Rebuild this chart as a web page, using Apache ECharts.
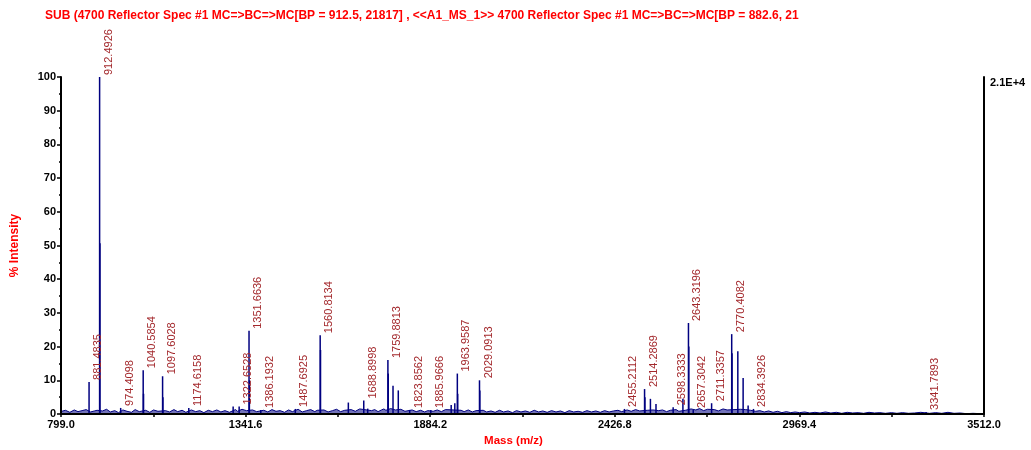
<!DOCTYPE html>
<html>
<head>
<meta charset="utf-8">
<script src="https://cdn.jsdelivr.net/npm/echarts@6/dist/echarts.min.js"></script>
<style>
  html, body { margin: 0; padding: 0; background: #ffffff; }
  #chart { width: 1031px; height: 450px; }
</style>
</head>
<body>
<div id="chart"></div>
<script>
// Header line of the spectrum report
const titleText = 'SUB (4700 Reflector Spec #1 MC=>BC=>MC[BP = 912.5, 21817] , <<A1_MS_1>> 4700 Reflector Spec #1 MC=>BC=>MC[BP = 882.6, 21';
const rightScaleLabel = '2.1E+4';

// Axis ticks (m/z)
const xLabelValues = [799.0, 1341.6, 1884.2, 2426.8, 2969.4, 3512.0];
const xTickValues = [799.0, 1070.3, 1341.6, 1612.9, 1884.2, 2155.5, 2426.8, 2698.1, 2969.4, 3240.7, 3512.0];

// Annotated peaks: m/z and % intensity
const labeledMz = [881.4835, 912.4926, 974.4098, 1040.5854, 1097.6028, 1174.6158, 1322.6528, 1351.6636,
  1386.1932, 1487.6925, 1560.8134, 1688.8998, 1759.8813, 1823.8562, 1885.9666, 1963.9587, 2029.0913,
  2455.2112, 2514.2869, 2598.3333, 2643.3196, 2657.3042, 2711.3357, 2770.4082, 2834.3926, 3341.7893];
const labeledPct = [9.5, 100, 1.8, 13, 11.2, 1.8, 2.2, 24.7,
  1.2, 1.5, 23.4, 4, 16, 1.2, 1.2, 12, 10,
  1.5, 7.4, 2, 27, 1.2, 3.2, 23.7, 1.5, 0.6];

// Isotope and unannotated peaks
const otherMz = [913.5, 1041.6, 1098.6, 1305.0, 1352.7, 1561.8, 1643.6, 1700.5, 1760.9, 1774.9, 1790.4,
  1945.9, 1956.5, 1965.0, 2030.1, 2515.3, 2531.5, 2547.9, 2627.0, 2644.3, 2771.4, 2788.4, 2804.0, 2818.7];
const otherPct = [50.7, 6, 5, 2.2, 10, 19, 3.4, 1.6, 12, 8.4, 7,
  2.7, 3.2, 6, 7, 5, 4.5, 3, 4.5, 20, 18, 18.6, 10.7, 2.5];

// Baseline noise trace: [m/z, % intensity]
const baseline = [
  [801, 0.8], [812, 1.1], [825, 0.5], [838, 1.2], [849, 0.7], [861, 1.0], [873, 1.3], [886, 0.6], [897, 0.9], [905, 1.1],
  [921, 0.9], [933, 1.4], [944, 0.6], [957, 1.0], [968, 0.4], [981, 1.2], [993, 0.8], [1006, 0.5], [1017, 1.3], [1029, 0.7],
  [1048, 1.1], [1060, 0.5], [1071, 1.2], [1084, 0.8], [1106, 1.0], [1118, 0.6], [1131, 1.3], [1142, 0.7], [1155, 1.1], [1166, 0.5],
  [1182, 1.2], [1195, 0.7], [1207, 1.0], [1219, 0.4], [1232, 1.1], [1244, 0.7], [1257, 1.2], [1269, 0.6], [1281, 1.0], [1294, 0.5],
  [1312, 1.3], [1318, 0.8], [1331, 1.4], [1344, 1.0], [1362, 1.2], [1374, 0.7], [1395, 1.1], [1407, 0.6], [1419, 1.3], [1431, 0.8],
  [1443, 1.0], [1456, 0.5], [1468, 1.2], [1479, 0.7], [1496, 1.4], [1508, 0.6], [1521, 1.0], [1533, 1.3], [1545, 0.7], [1552, 1.1],
  [1572, 1.2], [1584, 0.6], [1597, 1.0], [1609, 1.4], [1621, 0.7], [1633, 1.1], [1652, 1.3], [1664, 0.8], [1677, 1.5], [1712, 1.0],
  [1721, 1.3], [1731, 0.7], [1741, 1.2], [1748, 1.5], [1754, 1.1], [1768, 1.6], [1782, 1.2], [1798, 1.4], [1810, 0.8], [1831, 1.2],
  [1843, 0.7], [1856, 1.1], [1868, 0.6], [1877, 1.0], [1893, 0.8], [1905, 1.2], [1917, 0.7], [1929, 1.3], [1975, 1.1], [1984, 0.7],
  [1996, 1.2], [2008, 0.6], [2019, 1.0], [2040, 1.1], [2050, 0.6], [2063, 0.9], [2075, 0.5], [2088, 1.1], [2100, 0.6], [2113, 0.9],
  [2126, 0.4], [2138, 1.0], [2151, 0.6], [2164, 0.9], [2177, 0.5], [2190, 1.1], [2203, 0.6], [2215, 0.9], [2228, 0.5], [2241, 1.0],
  [2254, 0.6], [2267, 0.9], [2280, 0.4], [2293, 1.0], [2306, 0.6], [2319, 0.8], [2332, 0.5], [2345, 1.0], [2358, 0.6], [2371, 0.9],
  [2384, 0.5], [2397, 1.0], [2410, 0.6], [2423, 0.9], [2436, 1.1], [2447, 0.7], [2463, 1.2], [2475, 0.8], [2488, 1.3], [2500, 0.9],
  [2522, 1.1], [2539, 1.2], [2556, 1.0], [2567, 1.2], [2579, 0.7], [2590, 1.1], [2607, 1.3], [2615, 0.8], [2634, 1.1], [2651, 1.5],
  [2665, 1.2], [2676, 1.6], [2688, 1.0], [2699, 1.4], [2720, 1.3], [2731, 0.9], [2745, 1.5], [2757, 1.2], [2796, 1.4], [2811, 1.3],
  [2826, 1.1], [2841, 0.8], [2853, 1.0], [2866, 0.6], [2879, 0.9], [2892, 0.5], [2905, 0.8], [2918, 0.4], [2931, 0.7], [2944, 0.4],
  [2957, 0.6], [2970, 0.4], [2985, 0.6], [3000, 0.3], [3015, 0.5], [3030, 0.3], [3046, 0.6], [3062, 0.3], [3078, 0.5], [3094, 0.2],
  [3110, 0.5], [3126, 0.3], [3142, 0.4], [3158, 0.2], [3174, 0.5], [3190, 0.3], [3206, 0.4], [3222, 0.2], [3240, 0.4], [3256, 0.2],
  [3272, 0.4], [3290, 0.2], [3308, 0.3], [3326, 0.5], [3352, 0.2], [3370, 0.4], [3388, 0.2], [3406, 0.5], [3424, 0.2], [3442, 0.3],
  [3460, 0.1], [3480, 0.2], [3500, 0.1]
];

const FONT = '"Liberation Sans", Arial, Helvetica, sans-serif';
const TRACE = '#000080';
const LABEL_RED = '#a3282c';

// One bar series holds every stick so all share the same centre line
const sticks = [];
labeledMz.forEach((m, i) => sticks.push({ value: [m, labeledPct[i]], label: { show: true } }));
otherMz.forEach((m, i) => sticks.push({ value: [m, otherPct[i]] }));

const tickLabelStyle = { color: '#000000', fontWeight: 'bold', fontSize: 11, fontFamily: FONT };

const chart = echarts.init(document.getElementById('chart'), null, { renderer: 'canvas' });
chart.setOption({
  animation: false,
  backgroundColor: '#ffffff',
  title: {
    text: titleText,
    left: 40,
    top: 5,
    textStyle: { color: '#ff0000', fontWeight: 'bold', fontSize: 12, fontFamily: FONT }
  },
  grid: { left: 61, right: 47, top: 77, bottom: 36, outerBoundsMode: 'none' },
  xAxis: {
    type: 'value',
    min: 799,
    max: 3512,
    z: 5,
    name: 'Mass (m/z)',
    nameLocation: 'middle',
    nameGap: 21,
    nameTextStyle: { color: '#ff0000', fontWeight: 'bold', fontSize: 11.5, fontFamily: FONT, padding: [0, 18, 0, 0] },
    axisLine: { show: true, lineStyle: { color: '#000000', width: 2 } },
    axisTick: { show: true, customValues: xTickValues, length: 3, lineStyle: { color: '#000000', width: 1.5 } },
    axisLabel: Object.assign({ customValues: xLabelValues, formatter: v => v.toFixed(1), margin: 5 }, tickLabelStyle),
    splitLine: { show: false }
  },
  yAxis: [{
    type: 'value',
    min: 0,
    max: 100,
    interval: 10,
    z: 5,
    name: '% Intensity',
    nameLocation: 'middle',
    nameGap: 40,
    nameTextStyle: { color: '#ff0000', fontWeight: 'bold', fontSize: 12, fontFamily: FONT },
    axisLine: { show: true, lineStyle: { color: '#000000', width: 2 } },
    axisTick: { show: true, length: 4, lineStyle: { color: '#000000', width: 1.5 } },
    minorTick: { show: true, splitNumber: 2, length: 2, lineStyle: { color: '#000000', width: 1.5 } },
    axisLabel: Object.assign({ margin: 5 }, tickLabelStyle),
    splitLine: { show: false }
  }, {
    type: 'value',
    min: 0,
    max: 100,
    position: 'right',
    z: 5,
    axisLine: { show: true, lineStyle: { color: '#000000', width: 2 } },
    axisTick: { show: false },
    axisLabel: Object.assign({ customValues: [100], formatter: () => rightScaleLabel, margin: 6, verticalAlign: 'top' }, tickLabelStyle),
    splitLine: { show: false }
  }],
  series: [{
    // low-level baseline noise as a continuous trace
    type: 'line',
    data: baseline,
    showSymbol: false,
    silent: true,
    lineStyle: { color: TRACE, width: 1 },
    areaStyle: { color: TRACE, opacity: 0.55 },
    z: 1
  }, {
    type: 'bar',
    barWidth: 1.5,
    silent: true,
    data: sticks,
    itemStyle: { color: TRACE },
    z: 2,
    label: {
      show: false,
      position: 'top',
      rotate: 90,
      align: 'left',
      verticalAlign: 'middle',
      distance: 2,
      offset: [0, 9],
      color: LABEL_RED,
      fontSize: 11,
      fontFamily: FONT,
      formatter: p => p.value[0].toFixed(4)
    }
  }]
});
</script>
</body>
</html>
